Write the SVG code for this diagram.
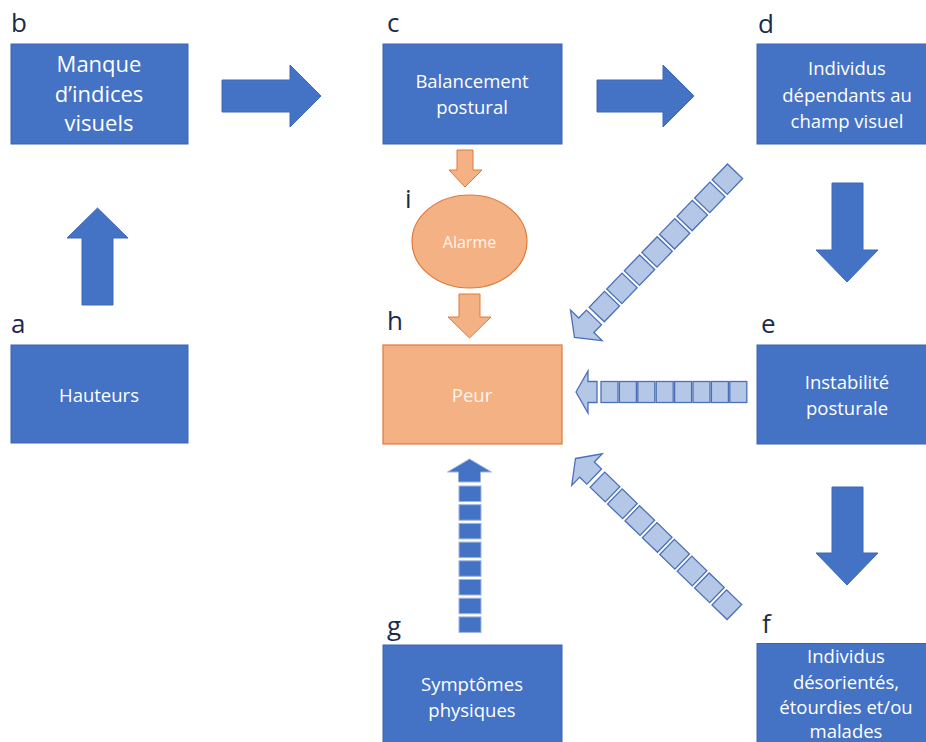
<svg xmlns="http://www.w3.org/2000/svg" width="926" height="742" viewBox="0 0 926 742">
<style>
.box{fill:#4472C4;stroke:#3A64B0;stroke-width:1}
.obox{fill:#F4B183;stroke:#E0783A;stroke-width:1.2}
.t{font-family:"Open Sans","Noto Sans",sans-serif;fill:#fff;text-anchor:middle;font-size:18.5px}
.lbl{font-family:"Open Sans","Noto Sans",sans-serif;font-size:26px;fill:#1B2A4A}
.barrow{fill:#4472C4;stroke:#3E69B8;stroke-width:1}
.oarrow{fill:#F4B183;stroke:#E0783A;stroke-width:1}
.sq{fill:#B4C7E7;stroke:#4A70B8;stroke-width:1.3}
.vsq{fill:#4472C4;stroke:#9DB4DE;stroke-width:1}
</style>
<rect width="926" height="742" fill="#fff"/>

<g id="connectors">
  <polygon class="barrow" points="222,80 290,80 290,65 321,96 290,127 290,112 222,112"/>
  <polygon class="barrow" points="597,80 663,80 663,65 694,96 663,127 663,112 597,112"/>
  <polygon class="barrow" points="82,305 82,238 67,238 97.5,208 128,238 113,238 113,305"/>
  <polygon class="barrow" points="832,183 863,183 863,250 878,250 847,282 816,250 832,250"/>
  <polygon class="barrow" points="832,487 863,487 863,553 878,553 847,585 816,553 832,553"/>
  <polygon class="oarrow" points="457,150 473,150 473,170 482,170 465,187 449,170 457,170"/>
  <polygon class="oarrow" points="459,294 480,294 480,317 491,317 469.5,338 448,317 459,317"/>
  <!-- d -> h diagonal striped arrow -->
  <g transform="translate(574.5,337.5) rotate(-46)">
    <polygon class="sq" points="0,0 17,-22 17,-10.5 28,-10.5 28,10.5 17,10.5 17,22"/>
    <rect class="sq" x="32" y="-10.5" width="22" height="21"/>
    <rect class="sq" x="57.3" y="-10.5" width="22" height="21"/>
    <rect class="sq" x="82.6" y="-10.5" width="22" height="21"/>
    <rect class="sq" x="107.9" y="-10.5" width="22" height="21"/>
    <rect class="sq" x="133.2" y="-10.5" width="22" height="21"/>
    <rect class="sq" x="158.5" y="-10.5" width="22" height="21"/>
    <rect class="sq" x="183.8" y="-10.5" width="22" height="21"/>
    <rect class="sq" x="209.1" y="-10.5" width="22" height="21"/>
  </g>
  <!-- e -> h horizontal striped arrow -->
  <g transform="translate(576,392)">
    <polygon class="sq" points="0,0 12,-21 12,-10.5 21,-10.5 21,10.5 12,10.5 12,21"/>
    <rect class="sq" x="25" y="-10.5" width="17" height="21"/>
    <rect class="sq" x="43.4" y="-10.5" width="17" height="21"/>
    <rect class="sq" x="61.8" y="-10.5" width="17" height="21"/>
    <rect class="sq" x="80.2" y="-10.5" width="17" height="21"/>
    <rect class="sq" x="98.6" y="-10.5" width="17" height="21"/>
    <rect class="sq" x="117" y="-10.5" width="17" height="21"/>
    <rect class="sq" x="135.4" y="-10.5" width="17" height="21"/>
    <rect class="sq" x="153.8" y="-10.5" width="17" height="21"/>
  </g>
  <!-- f -> h diagonal striped arrow -->
  <g transform="translate(575.5,458.5) rotate(44)">
    <polygon class="sq" points="0,0 16,-22 16,-10.5 26,-10.5 26,10.5 16,10.5 16,22"/>
    <rect class="sq" x="30.5" y="-10.5" width="21" height="21"/>
    <rect class="sq" x="54.7" y="-10.5" width="21" height="21"/>
    <rect class="sq" x="78.9" y="-10.5" width="21" height="21"/>
    <rect class="sq" x="103.1" y="-10.5" width="21" height="21"/>
    <rect class="sq" x="127.3" y="-10.5" width="21" height="21"/>
    <rect class="sq" x="151.5" y="-10.5" width="21" height="21"/>
    <rect class="sq" x="175.7" y="-10.5" width="21" height="21"/>
    <rect class="sq" x="199.9" y="-10.5" width="21" height="21"/>
  </g>
  <!-- g -> h vertical striped arrow -->
  <g>
    <polygon class="vsq" points="469.5,459 491.5,472 480.5,472 480.5,482 458.5,482 458.5,472 447.5,472"/>
    <rect class="vsq" x="459" y="486" width="22" height="15.5"/>
    <rect class="vsq" x="459" y="504.7" width="22" height="15.5"/>
    <rect class="vsq" x="459" y="523.4" width="22" height="15.5"/>
    <rect class="vsq" x="459" y="542.1" width="22" height="15.5"/>
    <rect class="vsq" x="459" y="560.8" width="22" height="15.5"/>
    <rect class="vsq" x="459" y="579.5" width="22" height="15.5"/>
    <rect class="vsq" x="459" y="598.2" width="22" height="15.5"/>
    <rect class="vsq" x="459" y="616.9" width="22" height="15.5"/>
  </g>
</g>

<g id="node-a">
  <text class="lbl" x="11" y="333">a</text>
  <rect class="box" x="11" y="345" width="177" height="98"/>
  <text class="t" x="99" y="401.5">Hauteurs</text>
</g>
<g id="node-b">
  <text class="lbl" x="11" y="32">b</text>
  <rect class="box" x="11" y="44" width="177" height="100"/>
  <text class="t" x="99" y="72" style="font-size:22px">Manque</text>
  <text class="t" x="99" y="102" style="font-size:22px">d’indices</text>
  <text class="t" x="99" y="131" style="font-size:22px">visuels</text>
</g>
<g id="node-c">
  <text class="lbl" x="387" y="32">c</text>
  <rect class="box" x="383" y="44" width="179" height="100"/>
  <text class="t" x="472" y="88">Balancement</text>
  <text class="t" x="472" y="114">postural</text>
</g>
<g id="node-d">
  <text class="lbl" x="758" y="33">d</text>
  <rect class="box" x="757" y="44" width="180" height="100"/>
  <text class="t" x="847" y="75">Individus</text>
  <text class="t" x="847" y="102">dépendants au</text>
  <text class="t" x="847" y="128">champ visuel</text>
</g>
<g id="node-e">
  <text class="lbl" x="761" y="333">e</text>
  <rect class="box" x="757" y="345" width="180" height="99"/>
  <text class="t" x="847" y="389">Instabilité</text>
  <text class="t" x="847" y="415">posturale</text>
</g>
<g id="node-f">
  <text class="lbl" x="762" y="633">f</text>
  <rect class="box" x="757" y="643.5" width="180" height="110"/>
  <text class="t" x="846" y="663">Individus</text>
  <text class="t" x="846" y="688.5">désorientés,</text>
  <text class="t" x="846" y="713.5">étourdies et/ou</text>
  <text class="t" x="846" y="737.5">malades</text>
</g>
<g id="node-g">
  <text class="lbl" x="387" y="635">g</text>
  <rect class="box" x="383" y="645" width="179" height="110"/>
  <text class="t" x="472" y="691">Symptômes</text>
  <text class="t" x="472" y="716.5">physiques</text>
</g>
<g id="node-h">
  <text class="lbl" x="387" y="330">h</text>
  <rect class="obox" x="383" y="345" width="179" height="99"/>
  <text class="t" x="472" y="401.5" style="fill:#FFF4EC">Peur</text>
</g>
<g id="node-i">
  <text class="lbl" x="405" y="208">i</text>
  <ellipse class="obox" cx="469.5" cy="241.5" rx="57.5" ry="46.5"/>
  <text class="t" x="469.5" y="247.5" style="fill:#FFF4EC;font-size:16px">Alarme</text>
</g>
</svg>
